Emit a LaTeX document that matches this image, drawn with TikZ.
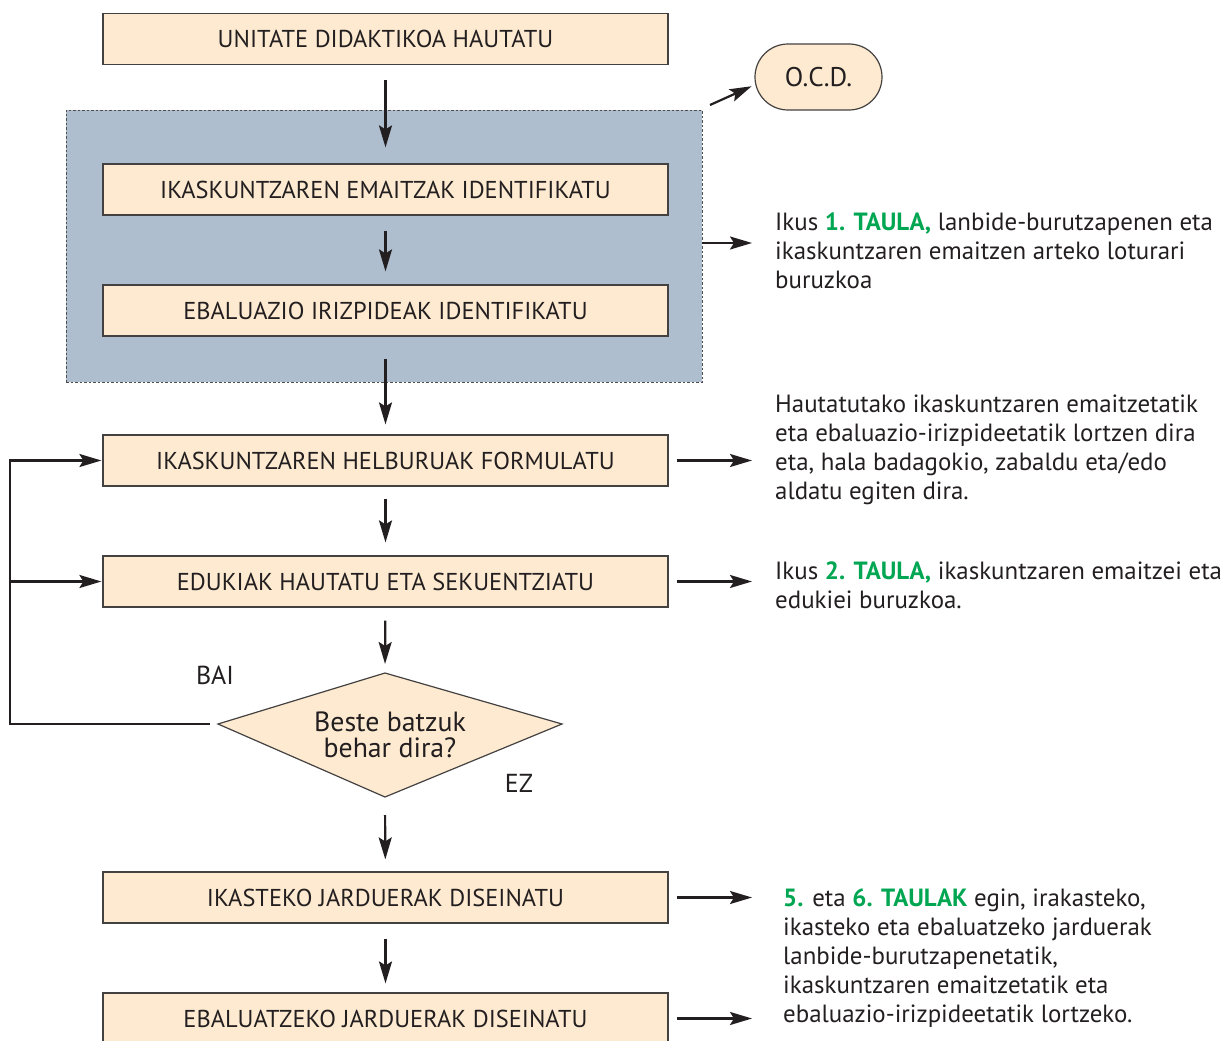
\documentclass[tikz,border=0pt]{standalone}
\usepackage{fontspec}
\setmainfont{PT Sans}
\usetikzlibrary{arrows.meta}
\definecolor{boxfill}{HTML}{FDEAD0}
\definecolor{panelblue}{HTML}{AEBECF}
\definecolor{ink}{HTML}{231F20}
\definecolor{tabgreen}{HTML}{00A651}
\newcommand{\tab}[1]{\textcolor{tabgreen}{\bfseries #1}}

\begin{document}
\begin{tikzpicture}[x=1pt,y=-1pt,
  stepbox/.style={draw=ink!85, line width=1.2pt, fill=boxfill, minimum width=565pt,
    minimum height=51pt, inner sep=0pt, text=ink, font=\fontsize{24.4}{28}\selectfont},
  panelbox/.style={draw=ink!80, line width=0.8pt, dash pattern=on 2.5pt off 2pt,
    fill=panelblue, minimum width=636pt, minimum height=272pt, inner sep=0pt},
  flow/.style={draw=ink, line width=2.2pt,
    -{Stealth[length=22pt,width=13pt,inset=4pt]}},
  note/.style={anchor=north west, align=left, inner sep=0pt, text=ink,
    font=\fontsize{24.9}{29}\selectfont},
  tag/.style={inner sep=0pt, text=ink, font=\fontsize{26}{28}\selectfont},
]
\useasboundingbox (0,0) rectangle (1224,1041);

% grouped steps
\node[panelbox] (panel) at (384,246) {};

% main steps
\node[stepbox] (b1) at (385.5,39)    {UNITATE DIDAKTIKOA HAUTATU};
\node[stepbox] (b2) at (385.5,189.5) {IKASKUNTZAREN EMAITZAK IDENTIFIKATU};
\node[stepbox] (b3) at (385.5,310.5) {EBALUAZIO IRIZPIDEAK IDENTIFIKATU};
\node[stepbox] (b4) at (385.5,460.5) {IKASKUNTZAREN HELBURUAK FORMULATU};
\node[stepbox] (b5) at (385.5,581.5) {EDUKIAK HAUTATU ETA SEKUENTZIATU};
\node[stepbox] (b6) at (385.5,897.5) {IKASTEKO JARDUERAK DISEINATU};
\node[stepbox] (b7) at (385.5,1018.5) {EBALUATZEKO JARDUERAK DISEINATU};

% O.C.D. terminal
\node[draw=ink!85, line width=1.2pt, fill=boxfill, rounded corners=33pt,
  minimum width=127pt, minimum height=66pt, inner sep=0pt, text=ink,
  font=\fontsize{27}{30}\selectfont] (ocd) at (818.5,77) {O.C.D.};

% decision
\coordinate (qT) at (385,673);
\coordinate (qR) at (562,724);
\coordinate (qB) at (385,797);
\coordinate (qL) at (218,724);
\filldraw[fill=boxfill, draw=ink!85, line width=1.2pt] (qT) -- (qR) -- (qB) -- (qL) -- cycle;
\node[align=center, inner sep=0pt, text=ink, font=\fontsize{27.8}{26}\selectfont] (qtext) at (390,735)
  {Beste batzuk\\behar dira?};
\node[tag] (bai) at (215,675) {BAI};
\node[tag] (ez) at (519,783) {EZ};
\coordinate (loopx) at (10,0);

% side notes
\node[note] (t1) at (775,213) {Ikus \tab{1. TAULA,} lanbide-burutzapenen eta\\
  ikaskuntzaren emaitzen arteko loturari\\buruzkoa};
\node[note] (t2) at (775,395) {Hautatutako ikaskuntzaren emaitzetatik\\
  eta ebaluazio-irizpideetatik lortzen dira\\eta, hala badagokio, zabaldu eta/edo\\
  aldatu egiten dira.};
\node[note] (t3) at (775,562) {Ikus \tab{2. TAULA,} ikaskuntzaren emaitzei eta\\
  edukiei buruzkoa.};
\node[note] (t4) at (783,889) {\tab{5.} eta \tab{6. TAULAK} egin, irakasteko,\\
  ikasteko eta ebaluatzeko jarduerak\\lanbide-burutzapenetatik,\\
  ikaskuntzaren emaitzetatik eta\\ebaluazio-irizpideetatik lortzeko.};

% main flow
\draw[flow, shorten <=15pt, shorten >=16pt] (b1) -- (b2);
\draw[flow, shorten <=15pt, shorten >=13pt] (b2) -- (b3);
\draw[flow, shorten <=22pt, shorten >=10pt] (b3) -- (b4);
\draw[flow, shorten <=12pt, shorten >=13pt] (b4) -- (b5);
\draw[flow, shorten <=13pt, shorten >=9pt] (b5) -- (qT);
\draw[flow, shorten <=18pt, shorten >=12pt] (qB) -- (b6);
\draw[flow, shorten <=15pt, shorten >=9pt] (b6) -- (b7);

% loop back from the decision
\draw[flow, shorten >=1pt] ([xshift=-8pt]qL) -- (qL -| loopx) |- (b4.west);
\draw[flow, shorten >=1pt] (b5.west -| loopx) -- (b5.west);

% references to the tables
\coordinate (ocdfoot) at (710,105);
\draw[flow, shorten >=3pt] (ocdfoot) -- ([yshift=-8pt]ocd.west);
\draw[flow, shorten >=23pt] ([yshift=3pt]panel.east) -- ([yshift=3pt]panel.east -| t1.west);
\draw[flow, shorten <=8pt, shorten >=23pt] (b4.east) -- (b4.east -| t2.west);
\draw[flow, shorten <=8pt, shorten >=23pt] (b5.east) -- (b5.east -| t3.west);
\draw[flow, shorten <=8pt, shorten >=31pt] (b6.east) -- (b6.east -| t4.west);
\draw[flow, shorten <=8pt, shorten >=31pt] (b7.east) -- (b7.east -| t4.west);
\end{tikzpicture}
\end{document}
